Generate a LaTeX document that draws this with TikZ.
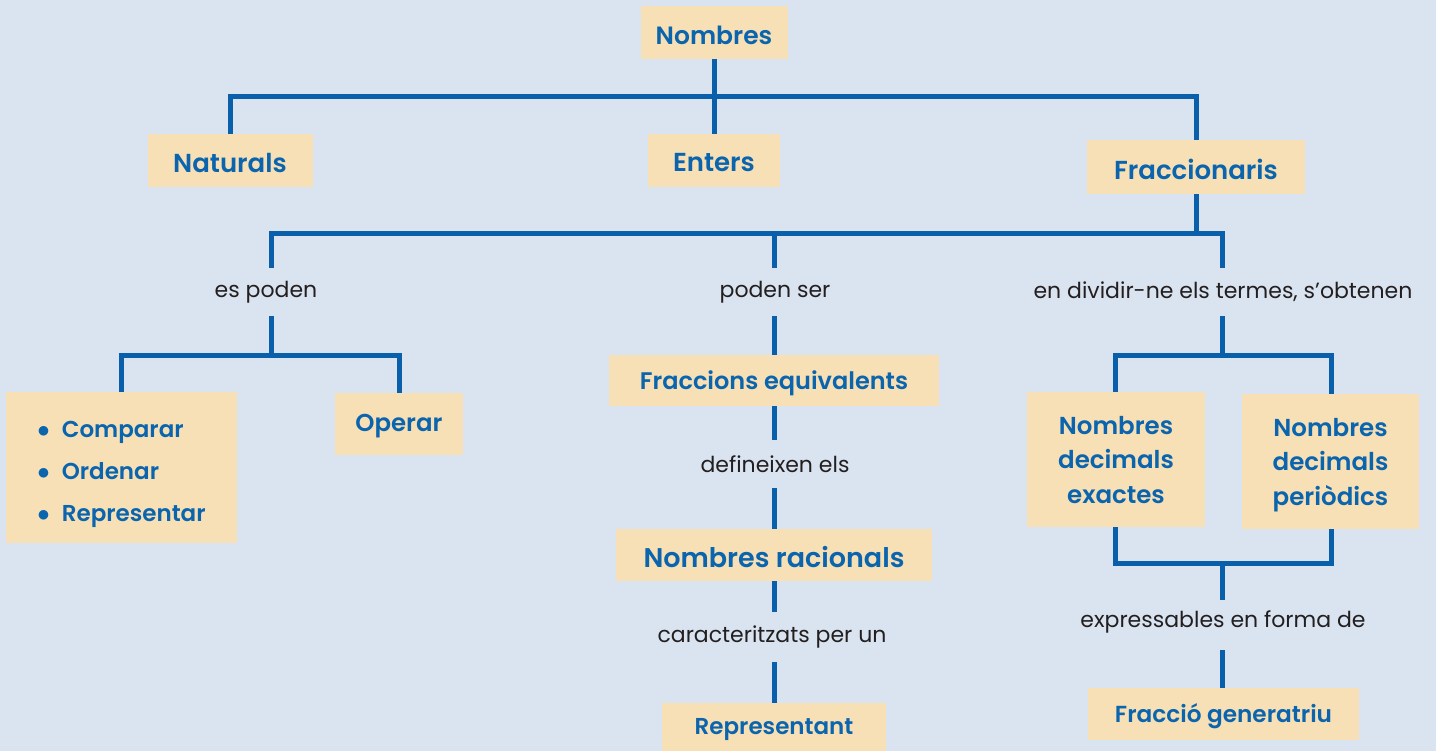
\documentclass[tikz,border=0pt]{standalone}
\usepackage{fontspec}
\setmainfont{Poppins}[BoldFont={Poppins SemiBold}]
\definecolor{bg}{HTML}{DAE4F0}
\definecolor{boxfill}{HTML}{F7E0B5}
\definecolor{tblue}{HTML}{0A64AE}
\definecolor{lblue}{HTML}{0A5FAA}
\definecolor{ltext}{HTML}{231F20}
\tikzset{
  conc/.style={fill=boxfill, text=tblue, font=\bfseries\fontsize{24}{28}\selectfont, inner xsep=0pt, inner ysep=0pt, align=center},
  big/.style={font=\bfseries\fontsize{26}{30}\selectfont},
  lab/.style={text=ltext, font=\fontsize{22}{26}\selectfont, inner sep=0pt},
  conn/.style={draw=lblue, line width=5pt}
}
\newcommand{\dn}[2][-2.5pt]{\raisebox{#1}[\height][\depth]{#2}}
\begin{document}
\begin{tikzpicture}[x=1pt,y=-1pt]
\fill[bg] (0,0) rectangle (1436,751);
\useasboundingbox (0,0) rectangle (1436,751);
% boxes
\node[conc, minimum width=147, minimum height=53, font=\bfseries\fontsize{25}{29}\selectfont] (nom) at (714,32.5) {\dn{Nombres}};
\node[conc, big, minimum width=165, minimum height=53] (nat) at (230,160.5) {\dn{Naturals}};
\node[conc, big, minimum width=132, minimum height=53] (ent) at (714,160.5) {\dn{Enters}};
\node[conc, big, minimum width=218, minimum height=54] (fra) at (1196,167) {\dn{Fraccionaris}};
\node[conc, minimum width=231, minimum height=151, font=\bfseries\fontsize{23}{42}\selectfont] (cmp) at (121.5,467.5) {\dn[-4pt]{\begin{tabular}{@{}l@{}}$\bullet$\hspace{12pt}Comparar\\$\bullet$\hspace{12pt}Ordenar\\$\bullet$\hspace{12pt}Representar\end{tabular}}};
\node[conc, minimum width=128, minimum height=62, font=\bfseries\fontsize{24.4}{28}\selectfont] (ope) at (399,424) {\dn{Operar}};
\node[conc, minimum width=330, minimum height=51] (feq) at (774,380.5) {\dn{Fraccions equivalents}};
\node[conc, minimum width=316, minimum height=52, font=\bfseries\fontsize{27}{31}\selectfont] (rac) at (774,555) {\dn{Nombres racionals}};
\node[conc, minimum width=224, minimum height=48, font=\bfseries\fontsize{23}{27}\selectfont] (rep) at (774,727) {\dn{Representant}};
\node[conc, minimum width=178, minimum height=135, font=\bfseries\fontsize{24.5}{34.5}\selectfont] (nde) at (1116,459.5) {\dn{\begin{tabular}{@{}c@{}}Nombres\\decimals\\exactes\end{tabular}}};
\node[conc, minimum width=177, minimum height=135, font=\bfseries\fontsize{24.5}{34.5}\selectfont] (ndp) at (1330.5,461.5) {\dn{\begin{tabular}{@{}c@{}}Nombres\\decimals\\periòdics\end{tabular}}};
\node[conc, minimum width=271, minimum height=52, font=\bfseries\fontsize{23.2}{27}\selectfont] (gen) at (1223.5,714) {\dn{Fracció generatriu}};
% labels
\node[lab] (l1) at (266,292) {es poden};
\node[lab] (l2) at (775,292) {poden ser};
\node[lab] (l3) at (1223,292) {en dividir-ne els termes, s{\char39}obtenen};
\node[lab] (l4) at (775,464) {defineixen els};
\node[lab] (l5) at (772,637) {caracteritzats per un};
\node[lab] (l6) at (1223,622) {expressables en forma de};
% coordinates
\coordinate (j1) at (714,97);
\coordinate (j2) at (1196,234);
\coordinate (a1) at (271,268);
\coordinate (a2) at (774,268);
\coordinate (a3) at (1222,268);
\coordinate (b1) at (271,316);
\coordinate (b2) at (774,316);
\coordinate (b3) at (1222,316);
\coordinate (j3) at (271,356);
\coordinate (j4) at (1222,356);
\coordinate (j5) at (1222,563);
\coordinate (c1) at (774,440);
\coordinate (c2) at (774,488);
\coordinate (c3) at (774,612);
\coordinate (c4) at (774,662);
\coordinate (c5) at (1222,600);
\coordinate (c6) at (1222,650);
% connectors
\draw[conn] (nom.south) -- (j1);
\draw[conn] (nat.north) |- (j1) -| (fra.north);
\draw[conn] (j1) -- (ent.north);
\draw[conn] (fra.south) -- (j2);
\draw[conn] (a1) |- (a3 |- j2) -- (a3);
\draw[conn] (a2 |- j2) -- (a2);
\draw[conn] (b1) -- (j3);
\draw[conn] (cmp.north) |- (j3) -| (ope.north);
\draw[conn] (b2) -- (feq.north -| b2);
\draw[conn] (feq.south -| c1) -- (c1);
\draw[conn] (c2) -- (rac.north -| c2);
\draw[conn] (rac.south -| c3) -- (c3);
\draw[conn] (c4) -- (rep.north -| c4);
\draw[conn] (b3) -- (j4);
\draw[conn] (nde.north -| 1115,0) |- (j4) -| (ndp.north -| 1331,0);
\draw[conn] (nde.south -| 1115,0) |- (j5) -| (ndp.south -| 1331,0);
\draw[conn] (j5) -- (c5);
\draw[conn] (c6) -- (gen.north -| c6);
\end{tikzpicture}
\end{document}
